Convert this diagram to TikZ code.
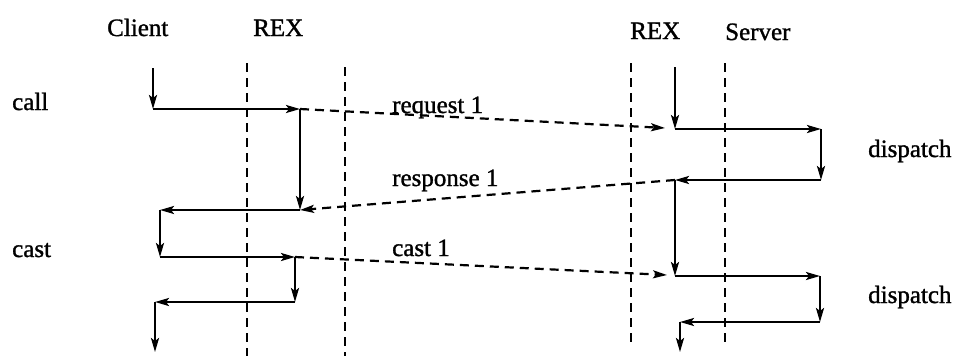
\documentclass[tikz,border=0pt]{standalone}
\usepackage{fontspec}
\setmainfont[FakeBold=1.2]{Liberation Serif}
\usetikzlibrary{arrows.meta}
\begin{document}
\begin{tikzpicture}[x=1pt,y=-1pt,
  lbl/.style={anchor=base west,inner sep=0pt,font=\fontsize{25}{30}\selectfont},
  life/.style={line width=2.2pt,dash pattern=on 9pt off 6pt},
  flow/.style={line width=2.2pt,-{Stealth[length=14pt,width=8pt,inset=3pt]}},
  msg/.style={line width=2.2pt,dash pattern=on 9pt off 6pt,-{Stealth[length=14pt,width=8pt,inset=3pt]}}]
\useasboundingbox (0,0) rectangle (958,356);
% headings
\node[lbl] (hclient) at (107,36) {Client};
\node[lbl] (hrex1) at (253,36) {REX};
\node[lbl] (hrex2) at (630,39) {REX};
\node[lbl] (hserver) at (725,40) {Server};
\node[lbl] (lcall) at (12,110) {call};
\node[lbl] (lcast) at (12,257) {cast};
\node[lbl] (ldisp1) at (868,157) {dispatch};
\node[lbl] (ldisp2) at (868,303) {dispatch};
\node[lbl] (lreq) at (392,113) {request 1};
\node[lbl] (lresp) at (392,186) {response 1};
\node[lbl] (lcast1) at (392,256) {cast 1};
% lifelines
\coordinate (a0) at (247,63); \coordinate (a1) at (247,356);
\coordinate (b0) at (345,67); \coordinate (b1) at (345,356);
\coordinate (d0) at (631,63); \coordinate (d1) at (631,345);
\coordinate (e0) at (725,63); \coordinate (e1) at (725,345);
\draw[life] (a0) -- (a1);
\draw[life] (b0) -- (b1);
\draw[life] (d0) -- (d1);
\draw[life] (e0) -- (e1);
% client side
\coordinate (c0) at (153,68);
\coordinate (c1) at (153,109);
\coordinate (r1) at (300,109);
\coordinate (r2) at (300,210);
\coordinate (c2) at (160,210);
\coordinate (c3) at (160,257);
\coordinate (r3) at (295,257);
\coordinate (r4) at (295,302);
\coordinate (c4) at (155,302);
\coordinate (c5) at (155,352);
\draw[flow] (c0) -- (c1);
\draw[flow] (c1) -- (r1);
\draw[flow] (r1) -- (r2);
\draw[flow] (r2) -- (c2);
\draw[flow] (c2) -- (c3);
\draw[flow] (c3) -- (r3);
\draw[flow] (r3) -- (r4);
\draw[flow] (r4) -- (c4);
\draw[flow] (c4) -- (c5);
% server side
\coordinate (s0) at (675,67);
\coordinate (s1) at (675,129);
\coordinate (v1) at (821,129);
\coordinate (v2) at (821,180);
\coordinate (s2) at (675,180);
\coordinate (s3) at (675,276);
\coordinate (v3) at (820,276);
\coordinate (v4) at (820,322);
\coordinate (s4) at (680,322);
\coordinate (s5) at (680,352);
\coordinate (q1) at (665,128);
\coordinate (q3) at (667,275);
\draw[flow] (s0) -- (s1);
\draw[flow] (s1) -- (v1);
\draw[flow] (v1) -- (v2);
\draw[flow] (v2) -- (s2);
\draw[flow] (s2) -- (s3);
\draw[flow] (s3) -- (v3);
\draw[flow] (v3) -- (v4);
\draw[flow] (v4) -- (s4);
\draw[flow] (s4) -- (s5);
% messages
\draw[msg] (r1) -- (q1);
\draw[msg] (s2) -- (r2);
\draw[msg] (r3) -- (q3);
\end{tikzpicture}
\end{document}
